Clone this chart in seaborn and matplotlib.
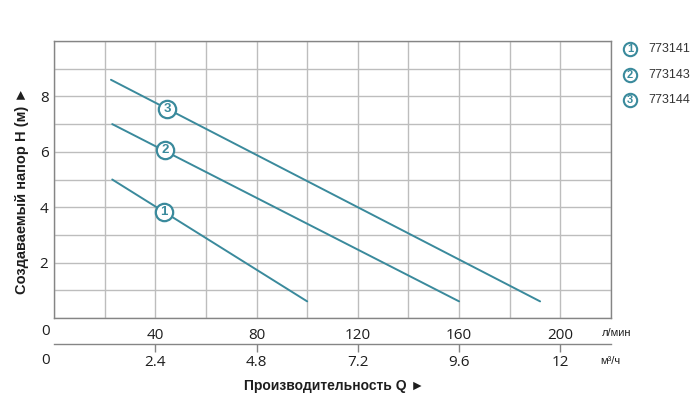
import matplotlib
matplotlib.use("Agg")
import matplotlib.pyplot as plt
from matplotlib.lines import Line2D
import seaborn as sns
import pandas as pd

# ---- data ----
models = ["773141", "773143", "773144"]
curve_ids = ["1", "2", "3"]
q_lpm = [[23, 100], [23, 160], [22.5, 192]]          # л/мин
head_m = [[5.0, 0.6], [7.0, 0.6], [8.6, 0.6]]         # м
label_q = [43.5, 43.8, 44.7]
label_h = [3.83, 6.05, 7.56]
x_major = [40, 80, 120, 160, 200]
x_grid = list(range(0, 221, 20))
y_grid = list(range(0, 11))
y_labels = [2, 4, 6, 8]
m3h_ticks = [2.4, 4.8, 7.2, 9.6, 12]

TEAL = "#3a8a9c"
GRID = "#bdbdbd"
EDGE = "#858585"
TXT = "#1e1e1e"

rows = []
for cid, qs, hs in zip(curve_ids, q_lpm, head_m):
    for q, h in zip(qs, hs):
        rows.append({"curve": cid, "Q": q, "H": h})
df = pd.DataFrame(rows)

sns.set_style("white")
plt.rcParams["font.family"] = ["Liberation Sans", "DejaVu Sans"]

fig = plt.figure(figsize=(7.0, 4.13), dpi=100)
W, H = 700, 413
ax = fig.add_axes([54 / W, 1 - 318 / H, (611 - 54) / W, (318 - 41) / H])

sns.lineplot(data=df, x="Q", y="H", hue="curve", palette=[TEAL] * 3,
             estimator=None, legend=False, linewidth=1.4, ax=ax, zorder=3)

ax.set_xlim(0, 220)
ax.set_ylim(0, 10)
ax.set_xticks(x_grid)
ax.set_xticklabels([str(v) if v in x_major else "" for v in x_grid])
ax.set_yticks(y_grid)
ax.set_yticklabels([str(v) if v in y_labels else "" for v in y_grid])
ax.grid(True, color=GRID, linewidth=1.0)
ax.set_axisbelow(True)
ax.tick_params(axis="x", length=0, pad=7, labelsize=11, labelcolor=TXT)
ax.tick_params(axis="y", length=0, pad=4, labelsize=11, labelcolor=TXT)
for lbl in ax.get_xticklabels() + ax.get_yticklabels():
    lbl.set_family(["Open Sans", "DejaVu Sans"])
for s in ax.spines.values():
    s.set_visible(True)
    s.set_color(EDGE)
    s.set_linewidth(1.0)
ax.set_xlabel("")
ax.set_ylabel("")

ax.annotate("0", xy=(0, 0), xycoords=("data", "axes fraction"),
            xytext=(-6, -10), textcoords="offset points", ha="center",
            va="center", fontsize=11, color=TXT, family=["Open Sans", "DejaVu Sans"])

# secondary axis in m3/h
sec = ax.secondary_xaxis(-26 / 277, functions=(lambda q: q * 0.06, lambda m: m / 0.06))
sec.set_xticks(m3h_ticks)
sec.set_xticklabels([f"{v:g}" for v in m3h_ticks])
sec.tick_params(axis="x", direction="out", length=6, width=1.0, color=EDGE,
                pad=2, labelsize=11, labelcolor=TXT)
for lbl in sec.get_xticklabels():
    lbl.set_family(["Open Sans", "DejaVu Sans"])
for name, s in sec.spines.items():
    s.set_color(EDGE)
    s.set_linewidth(1.0)
ax.annotate("0", xy=(0, -26 / 277), xycoords=("data", "axes fraction"),
            xytext=(-6, -12), textcoords="offset points", ha="center",
            va="center", fontsize=11, color=TXT, family=["Open Sans", "DejaVu Sans"])

# curve labels
ax.plot(label_q, label_h, linestyle="none", marker="o", markersize=12.5,
        mfc="white", mec=TEAL, mew=1.6, zorder=4)
for cid, q, h in zip(curve_ids, label_q, label_h):
    ax.text(q, h, cid, ha="center", va="center", fontsize=9.5, fontweight="bold",
            color=TEAL, zorder=5)

# units
fig.text(602 / W, 1 - 333 / H, "л/мин", fontsize=8, color=TXT, va="center", ha="left")
fig.text(600 / W, 1 - 361 / H, "м³/ч", fontsize=8, color=TXT, va="center", ha="left")

# axis titles
fig.text(334 / W, 1 - 386 / H, "Производительность Q ►", fontsize=10,
         fontweight="bold", color=TXT, ha="center", va="center")
fig.text(22 / W, 1 - 191 / H, "Создаваемый напор H (м) ►", fontsize=10.5,
         fontweight="bold", color=TXT, ha="center", va="center", rotation=90)

# legend
for i, (cid, m) in enumerate(zip(curve_ids, models)):
    y = 1 - (49 + i * 25.7) / H
    fig.add_artist(Line2D([630 / W], [y], transform=fig.transFigure, linestyle="none",
                          marker="o", markersize=9.6, mfc="white", mec=TEAL, mew=1.5))
    fig.text(630 / W, y, cid, fontsize=8, fontweight="bold", color=TEAL,
             ha="center", va="center")
    fig.text(648 / W, y, m, fontsize=9, color="#333333", ha="left", va="center")

fig.savefig("out.png", dpi=100)
